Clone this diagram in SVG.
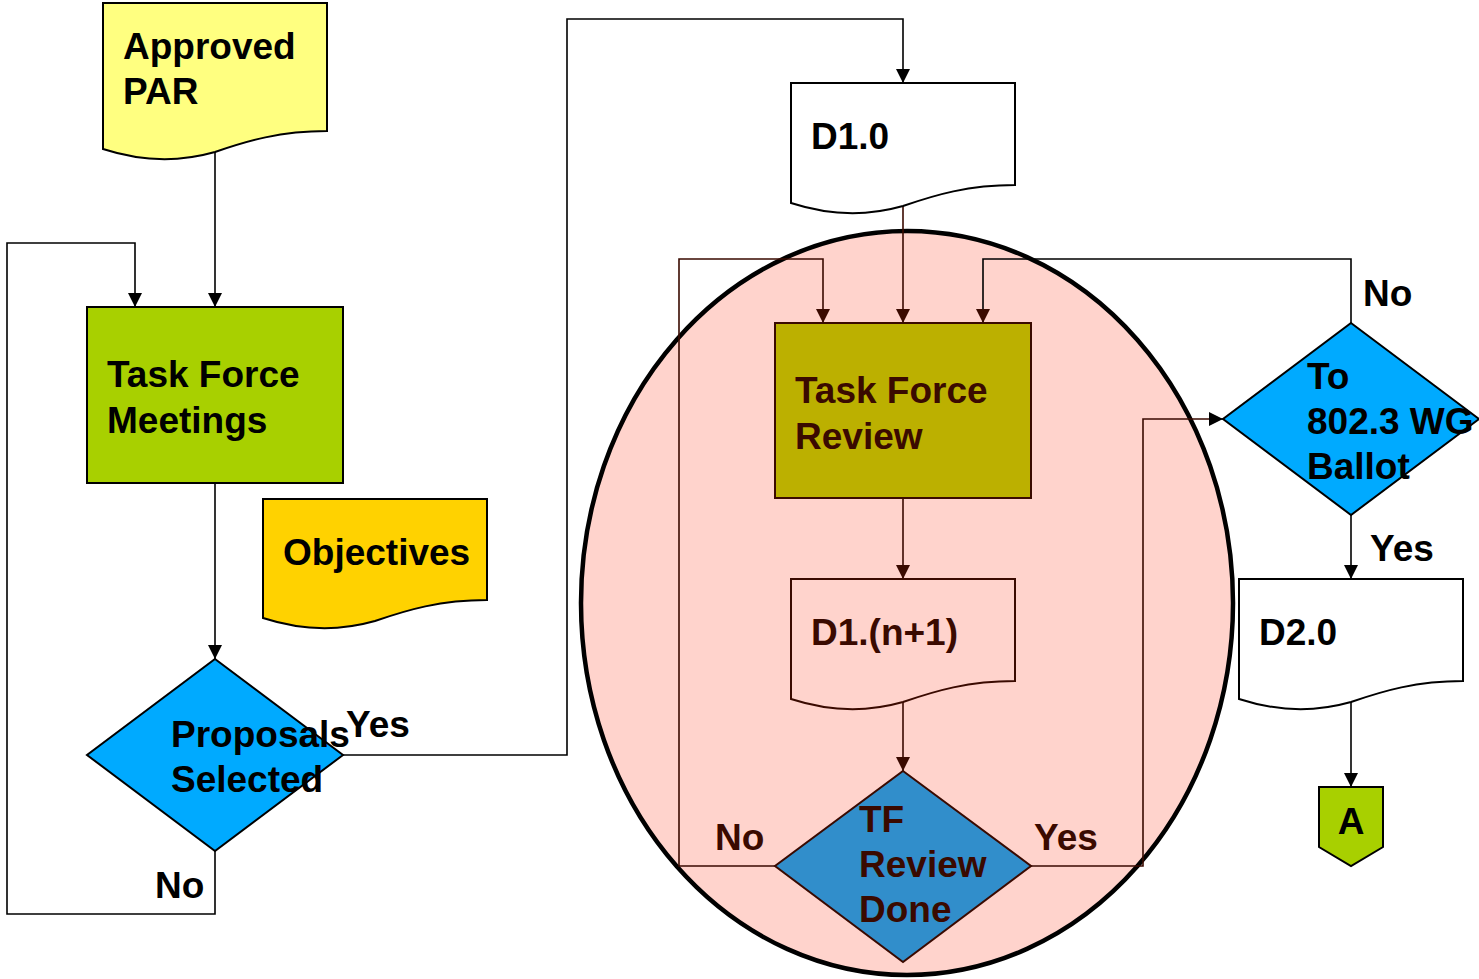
<svg xmlns="http://www.w3.org/2000/svg" width="1479" height="979" viewBox="0 0 1479 979">
<style>
text{font-family:"Liberation Sans",Arial,sans-serif;font-weight:bold;font-size:37px;fill:#000}
.br{fill:#3a0a00}
.k{stroke:#000;stroke-width:2}
.bs{stroke:#3a0a00;stroke-width:2}
.c{fill:none;stroke:#000;stroke-width:1.6}
.cb{fill:none;stroke:#3a0a00;stroke-width:1.6}
</style>
<defs>
<marker id="ah" markerUnits="userSpaceOnUse" markerWidth="14" markerHeight="14" refX="14" refY="7" orient="auto"><path d="M0,0 L14,7 L0,14 Z" fill="#000"/></marker>
<marker id="ahb" markerUnits="userSpaceOnUse" markerWidth="14" markerHeight="14" refX="14" refY="7" orient="auto"><path d="M0,0 L14,7 L0,14 Z" fill="#3a0a00"/></marker>
</defs>
<g id="review-ellipse"><ellipse cx="907" cy="603" rx="326" ry="372" fill="#ffd3cc" stroke="#000" stroke-width="4.5"/></g>
<g id="connectors">
<path class="c" d="M215,152 V307" marker-end="url(#ah)"/>
<path class="c" d="M215,483 V659" marker-end="url(#ah)"/>
<path class="c" d="M215,851 V914 H7 V243 H135 V307" marker-end="url(#ah)"/>
<path class="c" d="M343,755 H567 V19 H903 V83" marker-end="url(#ah)"/>
<path class="cb" d="M903,205 V323" marker-end="url(#ahb)"/>
<path class="cb" d="M903,498 V579" marker-end="url(#ahb)"/>
<path class="cb" d="M903,700 V771" marker-end="url(#ahb)"/>
<path class="cb" d="M775,866 H679 V259 H823 V323" marker-end="url(#ahb)"/>
<path class="cb" d="M1031,866 H1143 V419 H1223" marker-end="url(#ah)"/>
<path class="c" d="M1351,323 V259 H983 V323" marker-end="url(#ahb)"/>
<path class="c" d="M1351,515 V579" marker-end="url(#ah)"/>
<path class="c" d="M1351,700 V787" marker-end="url(#ah)"/>
</g>
<g id="approved-par">
<path class="k" fill="#ffff80" d="M103,3 H327 V131 C280,131 247,141 215,152 C180,162 143,162 103,149 Z"/>
<text x="123" y="59">Approved</text><text x="123" y="104">PAR</text>
</g>
<g id="task-force-meetings">
<rect class="k" x="87" y="307" width="256" height="176" fill="#a8d000"/>
<text x="107" y="387">Task Force</text><text x="107" y="433">Meetings</text>
</g>
<g id="objectives">
<path class="k" fill="#ffd200" d="M263,499 H487 V600 C440,600 407,610 375,621 C340,631 303,631 263,618 Z"/>
<text x="283" y="565">Objectives</text>
</g>
<g id="proposals-selected">
<path class="k" fill="#00aaff" d="M215,659 L343,755 L215,851 L87,755 Z"/>
<text x="171" y="747">Proposals</text><text x="171" y="792">Selected</text>
</g>
<g id="labels-left">
<text x="346" y="737">Yes</text><text x="155" y="898">No</text>
</g>
<g id="d1-0">
<path class="k" fill="#fff" d="M791,83 H1015 V185 C968,185 935,195 903,206 C868,216 831,216 791,203 Z"/>
<text x="811" y="149">D1.0</text>
</g>
<g id="task-force-review">
<rect class="bs" x="775" y="323" width="256" height="175" fill="#bcb000"/>
<text class="br" x="795" y="403">Task Force</text><text class="br" x="795" y="449">Review</text>
</g>
<g id="d1-n1">
<path class="bs" fill="#ffd3cc" d="M791,579 H1015 V681 C968,681 935,691 903,702 C868,712 831,712 791,699 Z"/>
<text class="br" x="811" y="645">D1.(n+1)</text>
</g>
<g id="tf-review-done">
<path class="bs" fill="#318ecb" d="M903,771 L1031,866 L903,962 L775,866 Z"/>
<text class="br" x="859" y="832">TF</text><text class="br" x="859" y="877">Review</text><text class="br" x="859" y="922">Done</text>
</g>
<g id="labels-review">
<text class="br" x="715" y="850">No</text><text class="br" x="1034" y="850">Yes</text>
</g>
<g id="wg-ballot">
<path class="k" fill="#00aaff" d="M1351,323 L1479,419 L1351,515 L1223,419 Z"/>
<text x="1307" y="389">To</text><text x="1307" y="434">802.3 WG</text><text x="1307" y="479">Ballot</text>
</g>
<g id="labels-right">
<text x="1363" y="306">No</text><text x="1370" y="561">Yes</text>
</g>
<g id="d2-0">
<path class="k" fill="#fff" d="M1239,579 H1463 V681 C1416,681 1383,691 1351,702 C1316,712 1279,712 1239,699 Z"/>
<text x="1259" y="645">D2.0</text>
</g>
<g id="connector-a">
<path class="k" fill="#a8d000" d="M1319,787 H1383 V847 L1351,866 L1319,847 Z"/>
<text x="1351" y="834" text-anchor="middle">A</text>
</g>
</svg>
